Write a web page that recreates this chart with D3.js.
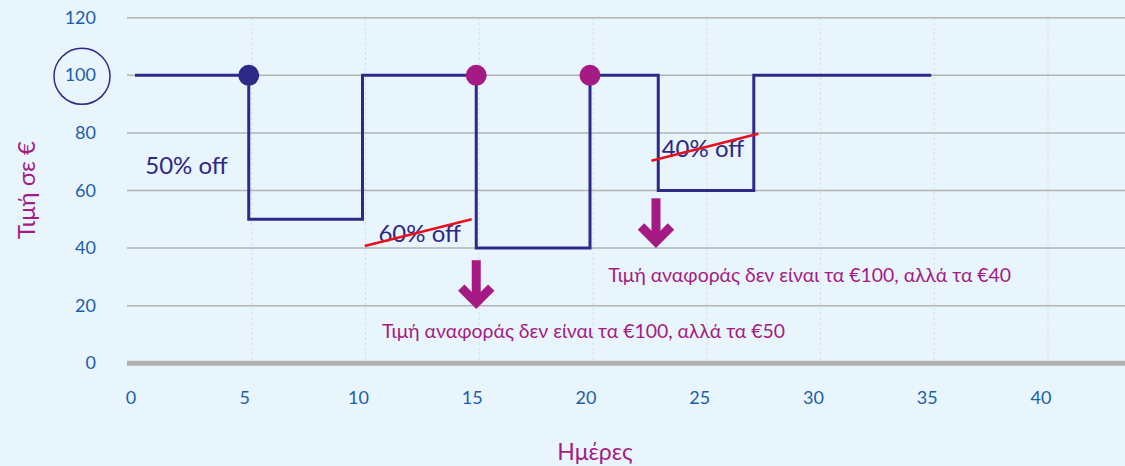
<!DOCTYPE html>
<html>
<head>
<meta charset="utf-8">
<script src="https://cdn.jsdelivr.net/npm/d3@7"></script>
<style>
  html, body { margin: 0; padding: 0; background: #e8f5fd; }
  text { font-family: Lato, "Open Sans", sans-serif; }
</style>
</head>
<body>
<div id="chart"></div>
<script>
// price path (days, euro) - step line
var days   = [0, 5, 5, 10, 10, 15, 15, 20, 20, 23, 23, 27.2, 27.2, 35];
var prices = [100, 100, 50, 50, 100, 100, 40, 40, 100, 100, 60, 60, 100, 100];

// marked points
var markDays   = [5, 15, 20];
var markPrices = [100, 100, 100];
var markColors = ['#2e2886', '#a51b83', '#a51b83'];

var xTicks = [0, 5, 10, 15, 20, 25, 30, 35, 40];
var yTicks = [0, 20, 40, 60, 80, 100, 120];

// discount labels
var offLabels = ['50% off', '60% off', '40% off'];
var offDays   = [0.45, 10.7, 23.15];
var offPrices = [65.7, 42, 71.7];

// red strike lines [x1, y1, x2, y2]
var strikes = [[10.1, 40.7, 14.8, 50], [22.7, 70.3, 27.4, 79.7]];

// arrows [day, top, tip]
var arrows = [[15, 35.8, 19], [22.9, 57.3, 40.2]];

var notes     = ['Τιμή αναφοράς δεν είναι τα €100, αλλά τα €50',
                 'Τιμή αναφοράς δεν είναι τα €100, αλλά τα €40'];
var noteDays  = [10.86, 20.8];
var notePrice = [8.8, 28.4];

var W = 1125, H = 466;
var navy = '#2e2886', mag = '#a51b83', blue = '#1c5ea8';

var x = d3.scaleLinear().domain([0, 40]).range([135, 1045]);
var y = d3.scaleLinear().domain([0, 120]).range([363.3, 17.7]);

var svg = d3.select('#chart').append('svg')
  .attr('width', W).attr('height', H);

svg.append('rect').attr('width', W).attr('height', H).attr('fill', '#e8f5fd');

// vertical dotted grid
svg.append('g').selectAll('line').data(xTicks.filter(function(d) { return d > 0; }))
  .enter().append('line')
    .attr('x1', function(d) { return x(d) + 3; })
    .attr('x2', function(d) { return x(d) + 3; })
    .attr('y1', y(120)).attr('y2', y(0))
    .attr('stroke', '#cfd8de').attr('stroke-width', 1)
    .style('stroke-dasharray', '2, 3');

// horizontal grid
svg.append('g').selectAll('line').data(yTicks.filter(function(d) { return d > 0; }))
  .enter().append('line')
    .attr('x1', 127).attr('x2', W)
    .attr('y1', function(d) { return y(d); })
    .attr('y2', function(d) { return y(d); })
    .attr('stroke', '#b3b3b3').attr('stroke-width', 1.5);

// baseline
svg.append('line')
  .attr('x1', 127).attr('x2', W)
  .attr('y1', y(0)).attr('y2', y(0))
  .attr('stroke', '#b0b0b0').attr('stroke-width', 5);

// y tick labels
svg.append('g').selectAll('text').data(yTicks)
  .enter().append('text')
    .attr('x', 96).attr('y', function(d) { return y(d) + 6; })
    .attr('text-anchor', 'end')
    .attr('font-size', 18).attr('fill', blue)
    .text(function(d) { return d; });

// circle around 100
svg.append('circle')
  .attr('cx', 82).attr('cy', y(100) + 1).attr('r', 28)
  .attr('fill', 'none').attr('stroke', navy).attr('stroke-width', 1.5);

// x tick labels
svg.append('g').selectAll('text').data(xTicks)
  .enter().append('text')
    .attr('x', function(d) { return x(d) - 4; })
    .attr('y', 404)
    .attr('text-anchor', 'middle')
    .attr('font-size', 18).attr('fill', blue)
    .text(function(d) { return d; });

// axis titles
svg.append('text')
  .attr('transform', 'translate(35,190) rotate(-90)')
  .attr('text-anchor', 'middle')
  .attr('font-size', 24).attr('fill', mag)
  .text('Τιμή σε €');

svg.append('text')
  .attr('x', 595).attr('y', 460)
  .attr('text-anchor', 'middle')
  .attr('font-size', 23).attr('fill', mag)
  .text('Ημέρες');

// step line
var line = d3.line()
  .x(function(d, i) { return x(days[i]); })
  .y(function(d, i) { return y(prices[i]); });

svg.append('path')
  .attr('d', line(days))
  .attr('fill', 'none')
  .attr('stroke', navy).attr('stroke-width', 3);

// discount labels
svg.append('g').selectAll('text').data(offLabels)
  .enter().append('text')
    .attr('x', function(d, i) { return x(offDays[i]); })
    .attr('y', function(d, i) { return y(offPrices[i]); })
    .attr('font-size', 24).attr('fill', navy)
    .text(function(d) { return d; });

// strikes
svg.append('g').selectAll('line').data(strikes)
  .enter().append('line')
    .attr('x1', function(d) { return x(d[0]); })
    .attr('y1', function(d) { return y(d[1]); })
    .attr('x2', function(d) { return x(d[2]); })
    .attr('y2', function(d) { return y(d[3]); })
    .attr('stroke', '#e8101e').attr('stroke-width', 2.5);

// markers
svg.append('g').selectAll('circle').data(markDays)
  .enter().append('circle')
    .attr('cx', function(d) { return x(d); })
    .attr('cy', function(d, i) { return y(markPrices[i]); })
    .attr('r', 10.5)
    .attr('fill', function(d, i) { return markColors[i]; });

// arrows
var ag = svg.append('g').selectAll('g').data(arrows).enter().append('g');
ag.append('line')
  .attr('x1', function(d) { return x(d[0]); })
  .attr('x2', function(d) { return x(d[0]); })
  .attr('y1', function(d) { return y(d[1]); })
  .attr('y2', function(d) { return y(d[2]) - 6; })
  .attr('stroke', mag).attr('stroke-width', 9);
ag.append('path')
  .attr('d', function(d) {
    var cx = x(d[0]), ty = y(d[2]) - 6;
    return 'M' + (cx - 15) + ',' + (ty - 15) + 'L' + cx + ',' + ty + 'L' + (cx + 15) + ',' + (ty - 15);
  })
  .attr('fill', 'none')
  .attr('stroke', mag).attr('stroke-width', 9)
  .attr('stroke-linejoin', 'miter');

// reference price notes
svg.append('g').selectAll('text').data(notes)
  .enter().append('text')
    .attr('x', function(d, i) { return x(noteDays[i]); })
    .attr('y', function(d, i) { return y(notePrice[i]); })
    .attr('font-size', 19.4).attr('fill', mag)
    .text(function(d) { return d; });
</script>
</body>
</html>
